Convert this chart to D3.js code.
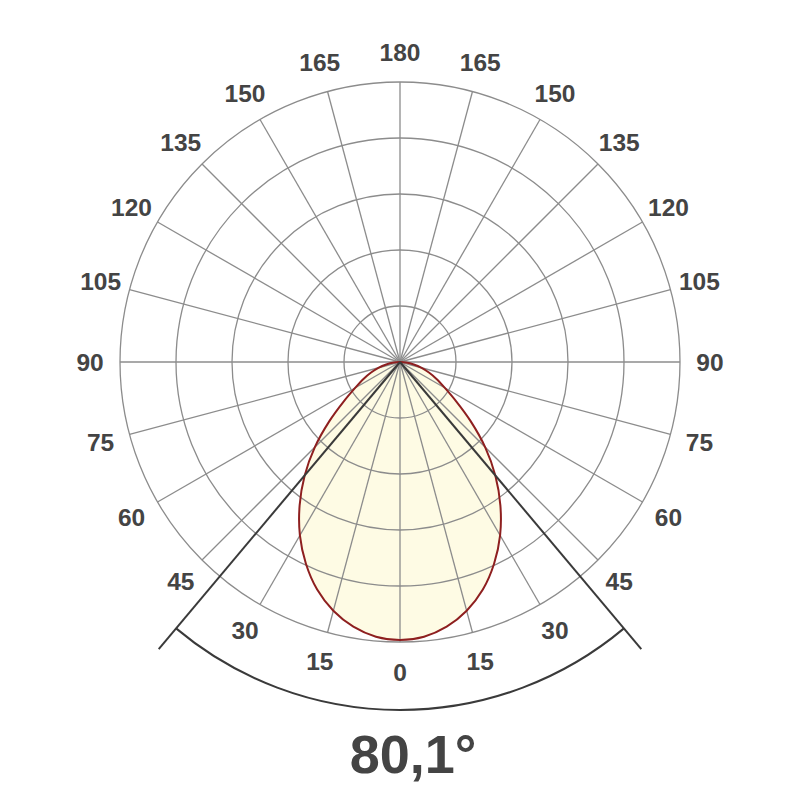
<!DOCTYPE html>
<html>
<head>
<meta charset="utf-8">
<script src="https://d3js.org/d3.v7.min.js"></script>
<style>
  body { margin: 0; background: #fff; }
  .lbl { font-family: "Liberation Sans", Arial, sans-serif; font-weight: bold; fill: #444; }
</style>
</head>
<body>
<svg id="polar" width="800" height="800"></svg>
<script>
  // angle from nadir (deg) and relative intensity
  const angles = [0, 5, 10, 15, 20, 25, 30, 35, 40, 45, 50, 55, 60, 65, 70, 75, 80, 85, 90];
  const intensity = [0.993, 0.985, 0.96, 0.92, 0.865, 0.795, 0.715, 0.625, 0.53, 0.43, 0.33, 0.245, 0.185, 0.145, 0.11, 0.08, 0.05, 0.022, 0];
  const ringValues = [0.2, 0.4, 0.6, 0.8, 1.0];
  const tickAngles = [0, 15, 30, 45, 60, 75, 90, 105, 120, 135, 150, 165, 180];
  const beamAngle = 80.1;
  const beamLabel = "80,1°";

  const svg = d3.select("svg#polar");
  const cx = 400, cy = 362;
  const rScale = d3.scaleLinear().domain([0, 1]).range([0, 280]);

  const g = svg.append("g").attr("transform", "translate(" + cx + "," + cy + ")");

  // d3 radial angle: 0 at top, clockwise; nadir is PI
  const rad = d => d * Math.PI / 180;

  // full curve, left side and right side
  let pts = [];
  for (let i = angles.length - 1; i >= 0; i--) pts.push([Math.PI + rad(angles[i]), intensity[i]]);
  for (let i = 1; i < angles.length; i++) pts.push([Math.PI - rad(angles[i]), intensity[i]]);

  const line = d3.lineRadial()
    .angle(d => d[0])
    .radius(d => rScale(d[1]))
    .curve(d3.curveCatmullRomClosed);

  g.append("path")
    .attr("d", line(pts))
    .attr("fill", "#fefbe4")
    .attr("stroke", "none");

  // grid rings
  g.selectAll("circle.ring")
    .data(ringValues)
    .join("circle")
    .attr("class", "ring")
    .attr("r", d => rScale(d))
    .attr("fill", "none")
    .attr("stroke", "#8c8c8c")
    .attr("stroke-width", 1.3);

  // spokes every 15 deg
  const spokes = d3.range(0, 360, 15);
  g.selectAll("line.spoke")
    .data(spokes)
    .join("line")
    .attr("class", "spoke")
    .attr("x1", 0).attr("y1", 0)
    .attr("x2", d => rScale(1) * Math.sin(rad(d)))
    .attr("y2", d => rScale(1) * Math.cos(rad(d)))
    .attr("stroke", "#8c8c8c")
    .attr("stroke-width", 1.3);

  // curve outline
  g.append("path")
    .attr("d", line(pts))
    .attr("fill", "none")
    .attr("stroke", "#8e1f1f")
    .attr("stroke-width", 2);

  // angle labels on both sides
  const labelR = 310;
  const labelData = [];
  tickAngles.forEach(a => {
    labelData.push({ a: a, s: 1 });
    if (a !== 0 && a !== 180) labelData.push({ a: a, s: -1 });
  });
  g.selectAll("text.tick")
    .data(labelData)
    .join("text")
    .attr("class", "lbl tick")
    .attr("x", d => d.s * labelR * Math.sin(rad(d.a)))
    .attr("y", d => labelR * Math.cos(rad(d.a)))
    .attr("text-anchor", "middle")
    .attr("dominant-baseline", "central")
    .attr("font-size", "24.5px")
    .text(d => d.a);

  // beam angle marker
  const half = beamAngle / 2;
  const lineLen = 375, arcR = 348;
  [-1, 1].forEach(s => {
    g.append("line")
      .attr("x1", 0).attr("y1", 0)
      .attr("x2", s * lineLen * Math.sin(rad(half)))
      .attr("y2", lineLen * Math.cos(rad(half)))
      .attr("stroke", "#3a3a3a")
      .attr("stroke-width", 2);
  });
  const arc = d3.arc()
    .innerRadius(arcR).outerRadius(arcR)
    .startAngle(Math.PI - rad(half))
    .endAngle(Math.PI + rad(half));
  g.append("path")
    .attr("d", arc())
    .attr("fill", "none")
    .attr("stroke", "#3a3a3a")
    .attr("stroke-width", 2);

  svg.append("text")
    .attr("class", "lbl")
    .attr("x", 413)
    .attr("y", 773)
    .attr("text-anchor", "middle")
    .attr("font-size", "54px")
    .text(beamLabel);
</script>
</body>
</html>
